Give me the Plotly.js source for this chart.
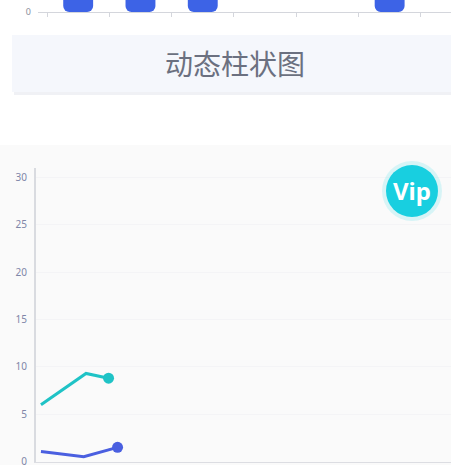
<!DOCTYPE html>
<html>
<head>
<meta charset="utf-8">
<script src="https://cdn.plot.ly/plotly-3.0.1.min.js"></script>
<style>
html,body{margin:0;padding:0;background:#ffffff;}
#chart{width:451px;height:465px;}
</style>
</head>
<body>
<div id="chart"></div>
<script>
// ---- data ----
var barCategories = ["周一", "周二", "周三", "周四", "周五", "周六"];
var barValues = [120, 200, 150, 0, 0, 80];

var cyanX = [0, 1, 1.5];
var cyanY = [6.0, 9.3, 8.8];
var blueX = [0, 0.95, 1.7];
var blueY = [1.05, 0.5, 1.5];

var barTitle = "动态柱状图";
var badgeText = "Vip";

// ---- helpers ----
var W = 451, H = 465;
function py(p) { return 1 - p / H; }
function px(p) { return p / W; }

var traces = [
  {
    type: "bar",
    x: barCategories,
    base: barValues,
    y: barValues.map(function (v) { return -v; }),
    width: 0.48,
    marker: { color: "#3d63e6", cornerradius: 6 },
    xaxis: "x", yaxis: "y",
    hoverinfo: "skip"
  },
  {
    type: "scatter", mode: "lines",
    x: cyanX, y: cyanY,
    line: { color: "#1fc3c6", width: 3 },
    xaxis: "x2", yaxis: "y2"
  },
  {
    type: "scatter", mode: "markers",
    x: [cyanX[cyanX.length - 1]], y: [cyanY[cyanY.length - 1]],
    marker: { color: "#1fc3c6", size: 11 },
    xaxis: "x2", yaxis: "y2"
  },
  {
    type: "scatter", mode: "lines",
    x: blueX, y: blueY,
    line: { color: "#4a5fe0", width: 3 },
    xaxis: "x2", yaxis: "y2"
  },
  {
    type: "scatter", mode: "markers",
    x: [blueX[blueX.length - 1]], y: [blueY[blueY.length - 1]],
    marker: { color: "#4a5fe0", size: 11 },
    xaxis: "x2", yaxis: "y2"
  }
];

var layout = {
  width: W, height: H,
  margin: { l: 0, r: 0, t: 0, b: 0 },
  paper_bgcolor: "#ffffff",
  plot_bgcolor: "rgba(0,0,0,0)",
  showlegend: false,
  font: { family: "Noto Sans, 'Noto Sans CJK SC', sans-serif", color: "#80869f" },
  xaxis: {
    domain: [px(38), 1],
    type: "category",
    range: [-0.645, 5.985],
    showticklabels: false,
    ticks: "outside", ticklen: 4, tickcolor: "#d4d6dc",
    tickson: "boundaries",
    showline: true, linecolor: "#d4d6dc", linewidth: 1,
    showgrid: false, zeroline: false,
    fixedrange: true
  },
  yaxis: {
    domain: [py(12), 1],
    range: [0, 10],
    tickvals: [0],
    ticktext: ["0"],
    tickfont: { size: 9, color: "#8a8f9c" },
    showline: false, showgrid: false, zeroline: false,
    ticks: "", ticklabelstandoff: 6
  },
  xaxis2: {
    domain: [px(36), 1],
    anchor: "y2",
    range: [-0.11, 9.1],
    showticklabels: false,
    ticks: "",
    showline: true, linecolor: "#dcdde2", linewidth: 1,
    showgrid: false, zeroline: false
  },
  yaxis2: {
    domain: [py(462), py(168)],
    anchor: "x2",
    range: [-0.05, 31],
    tickvals: [0, 5, 10, 15, 20, 25, 30],
    ticktext: ["0", "5", "10", "15", "20", "25", "30"],
    tickfont: { size: 10, color: "#7f86a8" },
    ticklabeloverflow: "allow",
    showline: true, linecolor: "#d9dbe0", linewidth: 2,
    showgrid: true, gridcolor: "#f4f4f6",
    zeroline: false, ticks: "", ticklabelstandoff: 5
  },
  shapes: [
    { type: "rect", xref: "paper", yref: "paper", layer: "below",
      x0: 0, x1: 1, y0: 0, y1: py(145),
      fillcolor: "#fafafa", line: { width: 0 } },
    { type: "rect", xref: "paper", yref: "paper", layer: "below",
      x0: px(14), x1: 1, y0: py(95), y1: py(37),
      fillcolor: "#f0f1f5", line: { width: 0 } },
    { type: "rect", xref: "paper", yref: "paper", layer: "below",
      x0: px(12), x1: 1, y0: py(92), y1: py(35),
      fillcolor: "#f5f7fc", line: { width: 0 } },
    { type: "circle", xref: "paper", yref: "paper", layer: "above",
      x0: px(382), x1: px(442), y0: py(221), y1: py(161),
      fillcolor: "rgba(40,215,230,0.16)", line: { width: 0 } },
    { type: "circle", xref: "paper", yref: "paper", layer: "above",
      x0: px(386), x1: px(438), y0: py(217), y1: py(165),
      fillcolor: "#18cfe0", line: { width: 0 } }
  ],
  annotations: [
    { xref: "paper", yref: "paper", x: px(235), y: py(63),
      xanchor: "center", yanchor: "middle",
      text: barTitle, showarrow: false,
      font: { family: "'Noto Sans CJK SC', sans-serif", size: 28, color: "#6b7080" } },
    { xref: "paper", yref: "paper", x: px(412), y: py(190),
      xanchor: "center", yanchor: "middle",
      text: "<b>" + badgeText + "</b>", showarrow: false,
      font: { family: "'Noto Sans', sans-serif", size: 24, color: "#ffffff" } }
  ]
};

Plotly.newPlot("chart", traces, layout, { displayModeBar: false, staticPlot: true });
</script>
</body>
</html>
